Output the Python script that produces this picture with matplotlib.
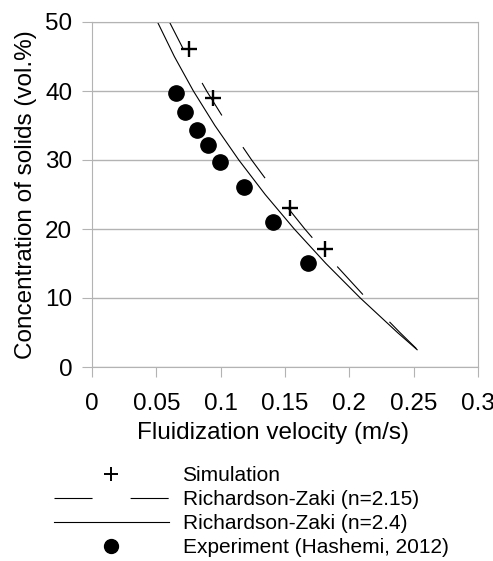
import matplotlib.pyplot as plt
from matplotlib.lines import Line2D

plt.rcParams['font.family'] = ['Liberation Sans', 'DejaVu Sans']
plt.rcParams['lines.scale_dashes'] = False

# simulation points
sim_v = [0.0756, 0.0943, 0.1535, 0.1808]
sim_c = [46.1, 39.0, 23.0, 17.1]

# experiment (Hashemi, 2012)
exp_v = [0.0655, 0.0725, 0.0815, 0.0902, 0.0997, 0.1185, 0.141, 0.1675]
exp_c = [39.7, 37.0, 34.3, 32.2, 29.7, 26.1, 21.0, 15.1]

# Richardson-Zaki curves
rz_c = [50, 45, 40, 35, 30, 25, 20, 15, 10, 5, 2.5]
rz215_v = [0.0602, 0.0739, 0.0891, 0.1058, 0.1241, 0.1439, 0.1654, 0.1884, 0.2130, 0.2393, 0.2530]
rz24_v = [0.0509, 0.0640, 0.0788, 0.0955, 0.1141, 0.1346, 0.1572, 0.1818, 0.2085, 0.2374, 0.2527]

xticks = [0, 0.05, 0.1, 0.15, 0.2, 0.25, 0.3]
xticklabels = ['0', '0.05', '0.1', '0.15', '0.2', '0.25', '0.3']
yticks = [0, 10, 20, 30, 40, 50]

labels = ['Simulation', 'Richardson-Zaki (n=2.15)', 'Richardson-Zaki (n=2.4)',
          'Experiment (Hashemi, 2012)']

grey = '#b3b3b3'

fig = plt.figure(figsize=(4.93, 5.61), dpi=100)
ax = fig.add_axes([92 / 493, 1 - 367 / 561, 386 / 493, 345 / 561])

ax.plot(rz215_v, rz_c, color='k', lw=0.8, linestyle=(5, (27.4, 27.4)))
ax.plot(rz24_v, rz_c, color='k', lw=0.8)
ax.plot(exp_v, exp_c, 'o', color='k', ms=11, zorder=3)
ax.plot(sim_v, sim_c, '+', color='k', ms=12, mew=1.7, zorder=4)

ax.set_xlim(0, 0.3)
ax.set_ylim(0, 50)
ax.set_xticks(xticks)
ax.set_xticklabels(xticklabels)
ax.set_yticks(yticks)

ax.yaxis.grid(True, color=grey, lw=1)
ax.set_axisbelow(True)
for s in ax.spines.values():
    s.set_color(grey)
ax.tick_params(axis='both', color=grey, length=7.2, width=0.8, labelsize=17.5)
ax.tick_params(axis='x', pad=11.3)
ax.tick_params(axis='y', pad=7)

ax.set_xlabel('Fluidization velocity (m/s)', fontsize=17.5, labelpad=5.6)
ax.xaxis.label.set_x(0.469)
ax.set_ylabel('Concentration of solids (vol.%)', fontsize=17.5, labelpad=6)

handles = [
    Line2D([], [], ls='none', marker='+', color='k', ms=10, mew=1.4),
    Line2D([], [], color='k', lw=0.8, dashes=(27.4, 27.4)),
    Line2D([], [], color='k', lw=0.8),
    Line2D([], [], ls='none', marker='o', color='k', ms=10),
]
fig.legend(handles, labels, loc='upper left', bbox_to_anchor=(54 / 493, 1 - 466 / 561),
           frameon=False, fontsize=15, handlelength=5.5, handletextpad=0.67,
           labelspacing=0.24, borderpad=0, borderaxespad=0)

fig.savefig('out.png', dpi=100)
